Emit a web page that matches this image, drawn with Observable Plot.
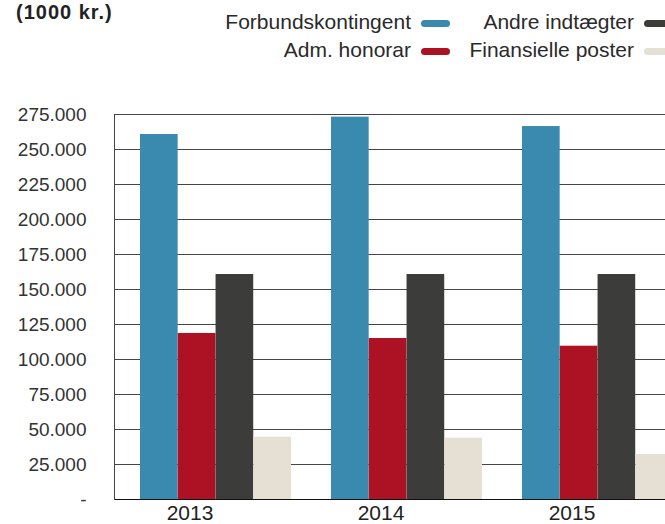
<!DOCTYPE html>
<html>
<head>
<meta charset="utf-8">
<script src="https://cdn.jsdelivr.net/npm/d3@7"></script>
<script src="https://cdn.jsdelivr.net/npm/@observablehq/plot@0.6"></script>
<style>
  html, body { margin: 0; padding: 0; background: #fff; }
  #wrap { position: relative; width: 665px; height: 524px; overflow: hidden; font-family: "Liberation Sans", Arial, sans-serif; color: #222; }
  #head { position: relative; height: 70px; }
  #title { position: absolute; left: 16px; top: 1px; font-size: 20px; font-weight: bold; letter-spacing: 1px; line-height: 22px; }
  .col { position: absolute; top: 8px; text-align: right; font-size: 21px; line-height: 28px; white-space: nowrap; color: #2a2a2a; }
  .sw { display: inline-block; width: 29px; height: 7px; border-radius: 3.5px; margin-left: 10px; vertical-align: 2px; }
  #chart { width: 700px; }
  #chart svg { max-width: none !important; width: 700px !important; height: 454px !important; display: block; }
</style>
</head>
<body>
<div id="wrap">
  <div id="head">
    <div id="title">(1000 kr.)</div>
    <div class="col" id="col1" style="right:215px"></div>
    <div class="col" id="col2" style="right:-8px"></div>
  </div>
  <div id="chart"></div>
</div>
<script>
// ---- data ----
const years = ["2013", "2014", "2015"];
const series = ["Forbundskontingent", "Adm. honorar", "Andre indtægter", "Finansielle poster"];
const forbundskontingent = [260700, 273100, 266400];
const admHonorar = [118600, 115000, 109500];
const andreIndtaegter = [160700, 160700, 160700];
const finansiellePoster = [44500, 43800, 32100];
const colors = ["#3a8ab0", "#ad1224", "#3c3c3b", "#e6e0d4"];
const yTicks = [0, 25000, 50000, 75000, 100000, 125000, 150000, 175000, 200000, 225000, 250000, 275000];

const values = [forbundskontingent, admHonorar, andreIndtaegter, finansiellePoster];

// ---- legend (column-major: col1 = series 0,1 ; col2 = series 2,3) ----
const cols = [document.getElementById("col1"), document.getElementById("col2")];
series.forEach((s, i) => {
  const row = document.createElement("div");
  row.innerHTML = `${s}<span class="sw" style="background:${colors[i]}"></span>`;
  cols[i < 2 ? 0 : 1].appendChild(row);
});

const loc = d3.formatLocale({decimal: ",", thousands: ".", grouping: [3], currency: ["", ""]});
const fmt = loc.format(",d");

const W = 700, ML = 114, MR = 1;
const xOpts = {type: "band", domain: years, paddingInner: 0.2115, paddingOuter: 0.1321};
const bw = Plot.scale({x: {...xOpts, range: [ML, W - MR]}}).bandwidth;
const n = series.length;

const barMarks = series.map((s, i) =>
  Plot.barY(years.map((y, j) => ({year: y, series: s, value: values[i][j]})), {
    x: "year", y: "value", fill: colors[i],
    insetLeft: i * bw / n, insetRight: (n - 1 - i) * bw / n
  })
);

const chart = Plot.plot({
  width: W,
  height: 454,
  marginTop: 44,
  marginBottom: 25,
  marginLeft: ML,
  marginRight: MR,
  style: {fontFamily: "'Liberation Sans', Arial, sans-serif", background: "transparent", maxWidth: "none"},
  x: xOpts,
  y: {domain: [0, 275000], nice: false},
  marks: [
    Plot.ruleY(yTicks.filter(d => d > 0), {stroke: "#454545", strokeWidth: 1}),
    ...barMarks,
    Plot.ruleY([0], {stroke: "#111", strokeWidth: 1}),
    Plot.frame({anchor: "left", stroke: "#444"}),
    Plot.axisY({ticks: yTicks, tickSize: 0, tickPadding: 28, fontSize: 19, fill: "#333", label: null, tickFormat: d => d === 0 ? "-" : fmt(d)}),
    Plot.axisX({tickSize: 0, tickPadding: 6, dx: -26, fontSize: 21, fill: "#222", label: null})
  ]
});
document.getElementById("chart").appendChild(chart);
</script>
</body>
</html>
